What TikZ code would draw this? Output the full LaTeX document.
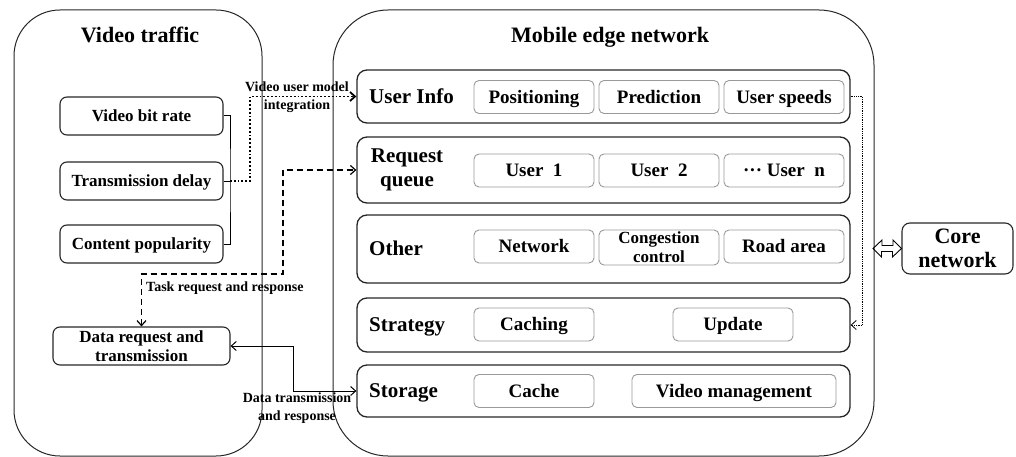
\documentclass[tikz,border=0pt]{standalone}
\usepackage{fontspec}
\setmainfont{Liberation Serif}[BoldFont={Liberation Serif Bold}]
\usetikzlibrary{arrows.meta}
\begin{document}
\begin{tikzpicture}[x=1pt,y=-1pt,
  every node/.style={inner sep=0pt, align=center, font=\bfseries},
  container/.style={draw=black!85, line width=1pt, rounded corners=46pt},
  title/.style={font=\bfseries\fontsize{22}{24}\selectfont, text height=14.5pt, text depth=0pt},
  leftbox/.style={draw=black!85, line width=1.1pt, rounded corners=7pt, minimum width=163pt, minimum height=38pt, font=\bfseries\fontsize{17}{17}\selectfont, text height=11.2pt, text depth=0pt},
  rowbox/.style={draw=black!85, line width=1.3pt, rounded corners=10pt, minimum width=493pt},
  rowlabel/.style={font=\bfseries\fontsize{21}{24}\selectfont, text height=13.9pt, text depth=0pt},
  innerbox/.style={draw=black!40, line width=0.9pt, rounded corners=5pt, minimum width=120pt, minimum height=33pt, font=\bfseries\fontsize{19}{17}\selectfont, text height=12.5pt, text depth=0pt},
  lbl/.style={font=\bfseries\fontsize{14}{18}\selectfont},
  >={Straight Barb[length=5pt,width=9pt]}
]
\useasboundingbox (0,0) rectangle (1016,457);
% containers
\node[container, minimum width=248pt, minimum height=446pt] (vt) at (138,233) {};
\node[container, rounded corners=55pt, minimum width=541pt, minimum height=446pt] (men) at (603.5,233) {};
\node[title] (vtt) at (140,35) {Video traffic};
\node[title] (ment) at (610,35) {Mobile edge network};
% left boxes
\node[leftbox] (vbr) at (141.5,116) {Video bit rate};
\node[leftbox] (td) at (141.5,181) {Transmission delay};
\node[leftbox] (cp) at (141.5,244) {Content popularity};
\node[leftbox, minimum width=177pt, font=\bfseries\fontsize{17}{19}\selectfont, text height=, text depth=] (drt) at (141.5,346) {Data request and\\transmission};
% rows
\node[rowbox, minimum height=53pt] (ui) at (603.5,96.5) {};
\node[rowbox, minimum height=66pt] (rq) at (603.5,170) {};
\node[rowbox, minimum height=68pt] (ot) at (603.5,249) {};
\node[rowbox, minimum height=54pt] (sg) at (603.5,325) {};
\node[rowbox, minimum height=52pt] (st) at (603.5,391) {};
\node[rowlabel, anchor=west] (uil) at (369,97) {User Info};
\node[rowlabel, text height=, text depth=] (rql) at (407,170) {Request\\queue};
\node[rowlabel, anchor=west] (otl) at (369,249) {Other};
\node[rowlabel, anchor=west] (sgl) at (369,325) {Strategy};
\node[rowlabel, anchor=west] (stl) at (369,391) {Storage};
% inner boxes
\node[innerbox] (pos) at (534,97) {Positioning};
\node[innerbox] (pre) at (659,97) {Prediction};
\node[innerbox] (usp) at (784,97) {User speeds};
\node[innerbox] (u1) at (534,170.5) {User~~1};
\node[innerbox] (u2) at (659,170.5) {User~~2};
\node[innerbox] (un) at (784,170.5) {···~User~~n};
\node[innerbox] (net) at (534,246.5) {Network};
\node[innerbox, minimum height=35pt, font=\bfseries\fontsize{17}{19}\selectfont, text height=, text depth=] (cc) at (659,247.5) {Congestion\\control};
\node[innerbox] (ra) at (784,246.5) {Road area};
\node[innerbox] (cch) at (534,324.5) {Caching};
\node[innerbox] (upd) at (733,324.5) {Update};
\node[innerbox] (cache) at (534,391) {Cache};
\node[innerbox, minimum width=204pt] (vm) at (734,391) {Video management};
% core
\node[draw=black!85, line width=1.1pt, rounded corners=8pt, minimum width=111pt, minimum height=51pt, font=\bfseries\fontsize{22}{24}\selectfont] (core) at (957.5,248.5) {Core\\network};
% connectors
\coordinate (br) at (230,181);
\draw[line width=1pt] (vbr.east) -| (br) |- (cp.east);
\draw[line width=1pt] (td.east) -- (br);
\draw[dotted, line width=1.8pt, ->] (br) -- ++(20,0) |- (ui.west);
\node[lbl] (vum) at (297,97) {Video user model\\integration};
\coordinate (tk) at (283,274);
\draw[line width=1.2pt, dash pattern=on 6pt off 4pt, <->] (drt.north) |- (tk) |- (rq.west);
\node[lbl, anchor=west] (trr) at (146,288) {Task request and response};
\coordinate (dt) at (293,391);
\draw[line width=1pt, <->] (drt.east) -| (dt) -- (st.west);
\node[lbl] (dtr) at (297,408) {Data transmission\\and response};
\draw[densely dotted, line width=0.8pt, ->] (ui.east) -- ++(12,0) |- (sg.east);
% hollow double arrow between the network and the core
\coordinate (mr) at (873,248.5);
\draw[line width=0.9pt, line join=miter] (mr) -- ++(9,-8.5) -- ++(0,5.5) -- ++(11,0) -- ++(0,-5.5) -- (core.west) -- ++(-9,8.5) -- ++(0,-5.5) -- ++(-11,0) -- ++(0,5.5) -- cycle;
\end{tikzpicture}
\end{document}
